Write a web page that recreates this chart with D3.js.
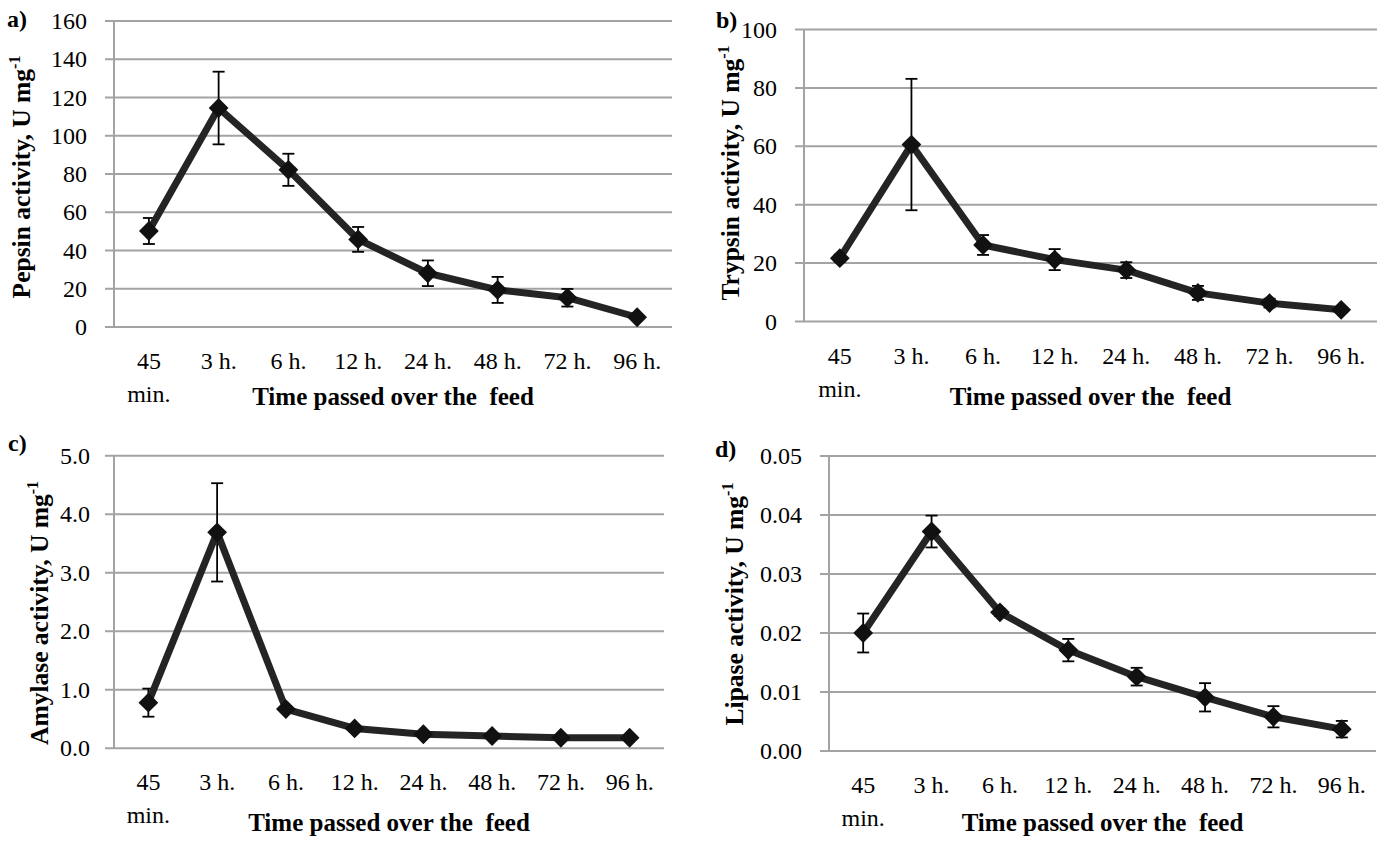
<!DOCTYPE html>
<html>
<head>
<meta charset="utf-8">
<script src="https://cdn.jsdelivr.net/npm/d3@7/dist/d3.min.js"></script>
<style>
  html, body { margin: 0; padding: 0; background: #fff; }
  svg { display: block; }
</style>
</head>
<body>
<svg id="chart" width="1384" height="841" font-family="'Liberation Serif', 'DejaVu Serif', serif"></svg>
<script>
// ---- data ----
const categories = ["45 min.", "3 h.", "6 h.", "12 h.", "24 h.", "48 h.", "72 h.", "96 h."];

const pepsin     = [50.2, 114.5, 82.2, 45.8, 28.1, 19.4, 15.3, 5.1];
const pepsinErr  = [6.8, 19.0, 8.4, 6.5, 6.7, 6.8, 4.6, 1.2];

const trypsin    = [21.7, 60.6, 26.2, 21.2, 17.6, 9.8, 6.3, 4.0];
const trypsinErr = [1.2, 22.5, 3.4, 3.6, 2.7, 2.4, 1.5, 1.0];

const amylase    = [0.78, 3.69, 0.67, 0.34, 0.24, 0.21, 0.18, 0.18];
const amylaseErr = [0.24, 0.84, 0.05, 0.04, 0.03, 0.03, 0.02, 0.02];

const lipase     = [0.0200, 0.0372, 0.0235, 0.0171, 0.0126, 0.0091, 0.0058, 0.0037];
const lipaseErr  = [0.0033, 0.0027, 0.0006, 0.0019, 0.0015, 0.0024, 0.0018, 0.0014];

const pepsinTicks  = [0, 20, 40, 60, 80, 100, 120, 140, 160];
const trypsinTicks = [0, 20, 40, 60, 80, 100];
const amylaseTicks = [0, 1, 2, 3, 4, 5];
const lipaseTicks  = [0, 0.01, 0.02, 0.03, 0.04, 0.05];

const xTitle = "Time passed over the\u00a0 feed";

// ---- panel layout ----
const panels = [
  { tag: "a)", name: "Pepsin activity, U mg", values: pepsin, err: pepsinErr, ticks: pepsinTicks, fmt: d3.format("d"),
    left: 114, right: 672, top: 21, bottom: 327, labelEnd: 87, yTitleX: 22, yTitleY: 177, xTitleY: 405, tagX: 7, tagY: 27 },
  { tag: "b)", name: "Trypsin activity, U mg", values: trypsin, err: trypsinErr, ticks: trypsinTicks, fmt: d3.format("d"),
    left: 804, right: 1377, top: 29.5, bottom: 321.5, labelEnd: 777, yTitleX: 731, yTitleY: 173, xTitleY: 405, tagX: 716, tagY: 28 },
  { tag: "c)", name: "Amylase activity, U mg", values: amylase, err: amylaseErr, ticks: amylaseTicks, fmt: d3.format(".1f"),
    left: 114, right: 664, top: 455.7, bottom: 748.3, labelEnd: 90, yTitleX: 40, yTitleY: 613, xTitleY: 831, tagX: 8, tagY: 451 },
  { tag: "d)", name: "Lipase activity, U mg", values: lipase, err: lipaseErr, ticks: lipaseTicks, fmt: d3.format(".2f"),
    left: 829, right: 1376, top: 456, bottom: 751, labelEnd: 802, yTitleX: 735, yTitleY: 604, xTitleY: 831, tagX: 715, tagY: 457 }
];

const svg = d3.select("#chart");
const gridColor = "#a3a3a3";
const lineColor = "#242424";
const FONT = "'Liberation Serif', 'DejaVu Serif', serif";
const FS = 24;

panels.forEach(p => {
  const g = svg.append("g").attr("font-family", FONT);
  const x = d3.scaleBand().domain(categories).range([p.left, p.right]).padding(0);
  const y = d3.scaleLinear().domain([p.ticks[0], p.ticks[p.ticks.length - 1]]).range([p.bottom, p.top]);
  const cx = d => x(d) + x.bandwidth() / 2;

  // gridlines
  g.selectAll("line.grid").data(p.ticks).join("line")
    .attr("x1", p.left - 9).attr("x2", p.right)
    .attr("y1", d => y(d)).attr("y2", d => y(d))
    .attr("stroke", gridColor).attr("stroke-width", 2);

  // y axis line
  g.append("line")
    .attr("x1", p.left).attr("x2", p.left)
    .attr("y1", y(p.ticks[p.ticks.length - 1])).attr("y2", p.bottom)
    .attr("stroke", gridColor).attr("stroke-width", 2);

  // y tick labels
  g.selectAll("text.ytick").data(p.ticks).join("text")
    .attr("x", p.labelEnd).attr("y", d => y(d) + 8)
    .attr("text-anchor", "end").attr("font-size", FS)
    .text(d => p.fmt(d));

  // x tick labels (wrapped)
  categories.forEach(c => {
    const parts = c.split(" ");
    const lines = parts.length > 1 && parts[1] === "min." ? [parts[0], parts[1]] : [c];
    const t = g.append("text").attr("text-anchor", "middle").attr("font-size", FS);
    lines.forEach((ln, i) => {
      t.append("tspan").attr("x", cx(c)).attr("y", p.bottom + 42 + i * 33).text(ln);
    });
  });

  // x title
  g.append("text").attr("x", (p.left + p.right) / 2).attr("y", p.xTitleY)
    .attr("text-anchor", "middle").attr("font-size", 25).attr("font-weight", "bold")
    .text(xTitle);

  // y title
  const yt = g.append("text")
    .attr("transform", `translate(${p.yTitleX + 8},${p.yTitleY}) rotate(-90)`)
    .attr("text-anchor", "middle")
    .attr("font-size", 25.5).attr("font-weight", "bold");
  yt.append("tspan").text(p.name);
  yt.append("tspan").attr("font-size", 16).attr("dy", -10).text("-1");

  // panel tag
  g.append("text").attr("x", p.tagX).attr("y", p.tagY)
    .attr("font-size", 24).attr("font-weight", "bold").text(p.tag);

  // error bars
  const eb = g.selectAll("g.err").data(categories).join("g");
  eb.append("line")
    .attr("x1", c => cx(c)).attr("x2", c => cx(c))
    .attr("y1", (c, i) => y(p.values[i] + p.err[i]))
    .attr("y2", (c, i) => y(p.values[i] - p.err[i]))
    .attr("stroke", "#000").attr("stroke-width", 1.8);
  [1, -1].forEach(s => {
    eb.append("line")
      .attr("x1", c => cx(c) - 6).attr("x2", c => cx(c) + 6)
      .attr("y1", (c, i) => y(p.values[i] + s * p.err[i]))
      .attr("y2", (c, i) => y(p.values[i] + s * p.err[i]))
      .attr("stroke", "#000").attr("stroke-width", 1.8);
  });

  // line
  const line = d3.line().x((v, i) => cx(categories[i])).y(v => y(v));
  g.append("path").datum(p.values)
    .attr("d", line).attr("fill", "none")
    .attr("stroke", lineColor).attr("stroke-width", 7)
    .attr("stroke-linejoin", "round");

  // markers (diamonds)
  const sym = d3.symbol().type(d3.symbolDiamond2).size(250);
  g.selectAll("path.mk").data(p.values).join("path")
    .attr("transform", (v, i) => `translate(${cx(categories[i])},${y(v)})`)
    .attr("d", sym)
    .attr("fill", "#111");
});
</script>
</body>
</html>
